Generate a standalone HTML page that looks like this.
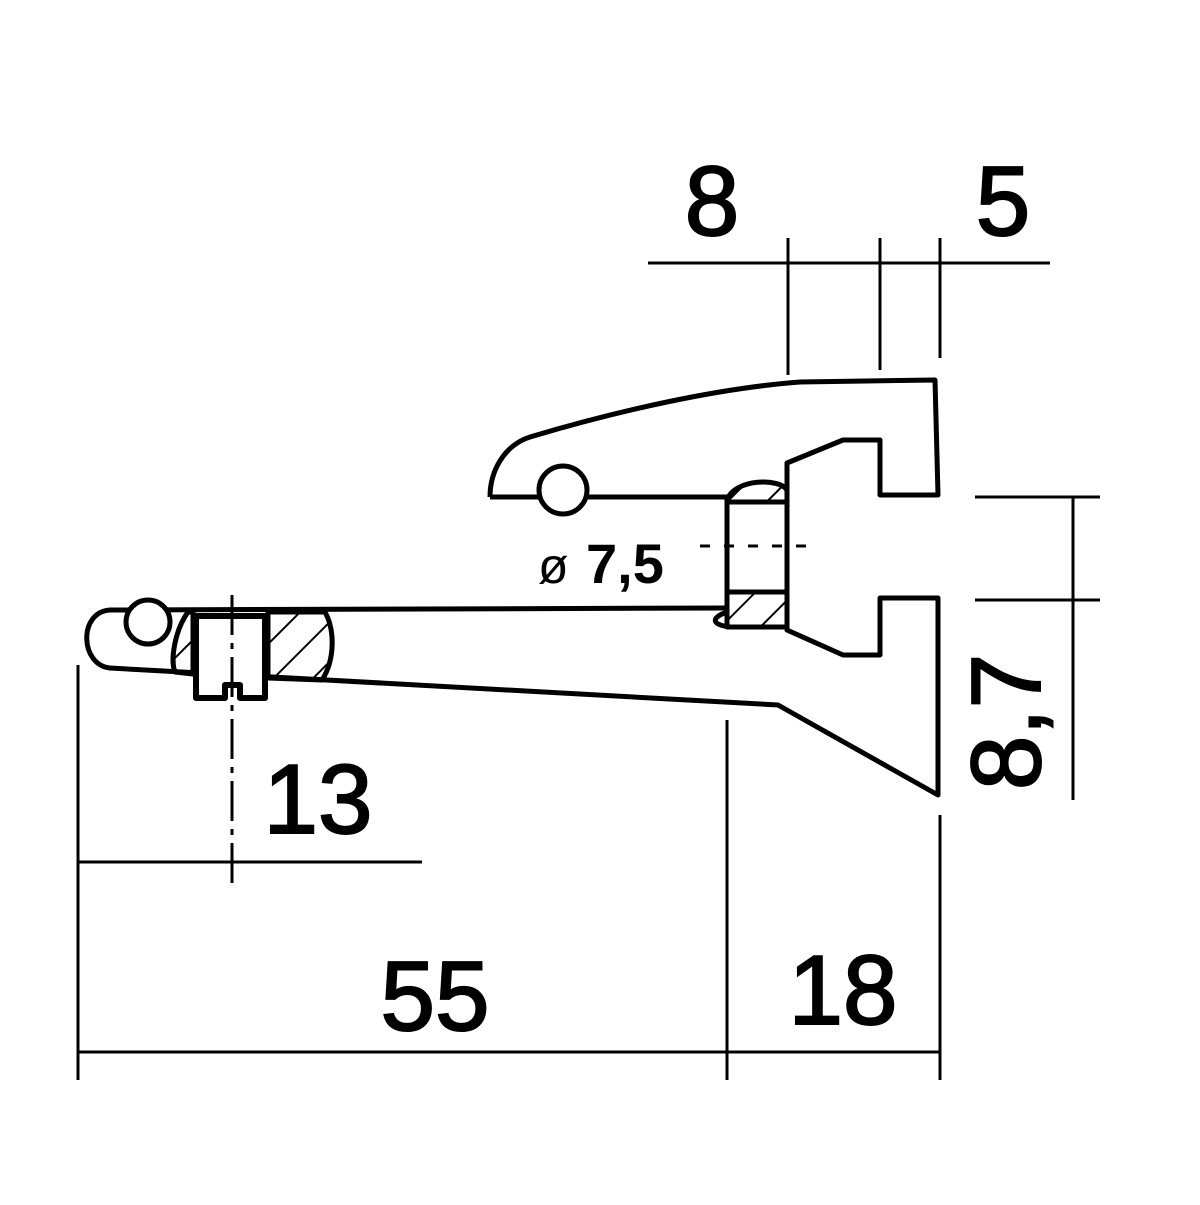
<!DOCTYPE html>
<html><head><style>body{margin:0;background:#fff}</style></head><body>
<svg width="1200" height="1200" viewBox="0 0 1200 1200" xmlns="http://www.w3.org/2000/svg">
<defs><pattern id="h" patternUnits="userSpaceOnUse" width="28" height="28" patternTransform="rotate(45)"><line x1="0" y1="0" x2="0" y2="28" stroke="#000" stroke-width="4"/></pattern></defs>
<g fill="none" stroke="#000" stroke-width="5" stroke-linejoin="round">
<path d="M490,497 C490,470 505,445 530,437 C620,410 720,388 800,382 L935,380 L938,495 L880,495 L880,440 L843,440 L787,463 L787,630 L843,655 L880,655 L880,598 L938,598 L938,795 L778,705 L110,668 C80,665 78,612 110,610 L728,608"/>
<line x1="490" y1="497" x2="728" y2="497"/>
<path d="M727,500 C735,478 780,478 787,490 L787,502 L727,502 Z" fill="url(#h)"/>
<path d="M727,592 L787,592 L787,627 L727,627 Z" fill="url(#h)"/>
<rect x="727" y="502" width="60" height="90" fill="#fff"/>
<path d="M727,612 C710,618 712,625 730,627"/>
<circle cx="563" cy="490" r="24" fill="#fff"/>
<circle cx="148" cy="622" r="22" fill="#fff"/>
<path d="M268,612 L325,612 C335,630 335,660 322,680 L268,678 Z" fill="url(#h)"/>
<path d="M193,612 L188,612 C175,630 170,660 175,672 L193,674 Z" fill="url(#h)"/>
<path d="M196,616 L265,616 L265,698 L240,698 L240,685 L225,685 L225,698 L196,698 Z" fill="#fff" stroke-width="6"/>
</g>
<g stroke="#000" stroke-width="3" fill="none">
<line x1="648" y1="263" x2="1050" y2="263"/>
<line x1="788" y1="238" x2="788" y2="375"/>
<line x1="880" y1="238" x2="880" y2="370"/>
<line x1="940" y1="238" x2="940" y2="358"/>
<line x1="975" y1="497" x2="1100" y2="497"/>
<line x1="975" y1="600" x2="1100" y2="600"/>
<line x1="1073" y1="497" x2="1073" y2="800"/>
<line x1="78" y1="665" x2="78" y2="1080"/>
<line x1="727" y1="720" x2="727" y2="1080"/>
<line x1="940" y1="815" x2="940" y2="1080"/>
<line x1="78" y1="1052" x2="940" y2="1052"/>
<line x1="232" y1="595" x2="232" y2="885" stroke-dasharray="40,8,6,8"/>
<line x1="78" y1="862" x2="422" y2="862"/>
<line x1="700" y1="546" x2="815" y2="546" stroke-dasharray="10,14"/>
</g>
<g font-family="Liberation Sans, sans-serif" font-size="98" text-anchor="middle" fill="#000" stroke="#000" stroke-width="2">
<text x="712" y="235">8</text>
<text x="1003" y="235">5</text>
<text x="318" y="833">13</text>
<text x="435" y="1030">55</text>
<text x="843" y="1024">18</text>
<text transform="translate(1040,722) rotate(-90)">8,7</text>
</g>
<text x="538" y="583" font-family="Liberation Sans, sans-serif" font-size="50" fill="#000">ø</text>
<text x="586" y="583" font-family="Liberation Sans, sans-serif" font-size="56" font-weight="bold" fill="#000">7,5</text>
</svg>
</body></html>
